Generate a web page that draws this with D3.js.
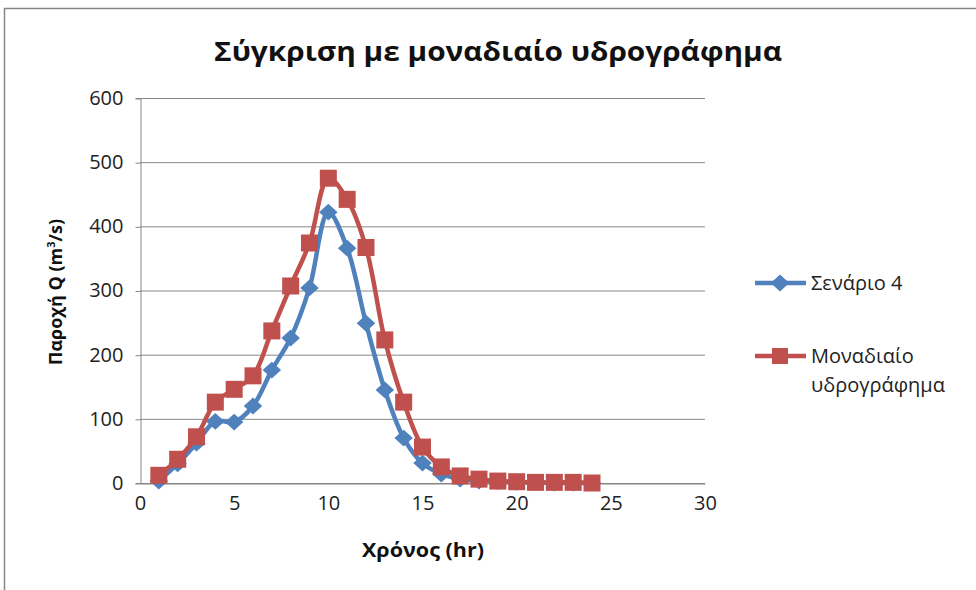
<!DOCTYPE html>
<html><head><meta charset="utf-8">
<script src="https://cdn.jsdelivr.net/npm/d3@7"></script>
<style>body{margin:0;background:#fff;} text{font-family:"Open Sans","Liberation Sans",sans-serif;}</style>
</head><body>
<svg id="c" width="976" height="590"></svg>
<script>
const hours = [1,2,3,4,5,6,7,8,9,10,11,12,13,14,15,16,17,18,19,20,21,22,23,24];
const scenario4 = [3,30,62,96,95,120,176,226,304,422,366,249,145,70,31,14,6,3,2,1,1,0,0,0];
const unitHydro = [12,37,72,126,146,167,237,307,374,475,442,367,223,126,56,25,11,6,3,2,1,1,1,0];
const xTicks = [0,5,10,15,20,25,30];
const yTicks = [0,100,200,300,400,500,600];
const seriesNames = ["Σενάριο 4","Μοναδιαίο υδρογράφημα"];
const title = "Σύγκριση με μοναδιαίο υδρογράφημα";
const xTitle = "Χρόνος (hr)";

const svg = d3.select("#c");
svg.append("rect").attr("x",4.5).attr("y",8.5).attr("width",990).attr("height",600)
  .attr("fill","#fff").attr("stroke","#868686").attr("stroke-width",1.5);

const L=140,R=705,T=98,B=483;
const x = d3.scaleLinear().domain([0,30]).range([L,R]);
const y = d3.scaleLinear().domain([0,600]).range([B,T]);

svg.append("g").selectAll("line").data(yTicks).join("line")
  .attr("x1",L).attr("x2",R).attr("y1",d=>y(d)+0.5).attr("y2",d=>y(d)+0.5)
  .attr("stroke","#868686").attr("stroke-width",1);

const ya = svg.append("g").attr("transform",`translate(${L+0.5},0)`)
  .call(d3.axisLeft(y).tickValues(yTicks).tickSize(5).tickPadding(12));
ya.select(".domain").attr("stroke","#868686");
ya.selectAll(".tick line").attr("stroke","#868686").attr("transform","translate(0,0.5)");
ya.selectAll("text").attr("font-size",20).attr("fill","#222").attr("font-family","Open Sans, sans-serif");

const xa = svg.append("g").attr("transform",`translate(0,${B+0.5})`)
  .call(d3.axisBottom(x).tickValues(xTicks).tickSize(0).tickPadding(12));
xa.select(".domain").attr("stroke","#868686");
xa.selectAll("text").attr("font-size",20).attr("fill","#222").attr("font-family","Open Sans, sans-serif");

const line = d3.line().x((d,i)=>x(hours[i])).y(d=>y(d)).curve(d3.curveCatmullRom.alpha(0.5));

svg.append("path").datum(scenario4).attr("d",line).attr("fill","none")
  .attr("stroke","#4F81BD").attr("stroke-width",4.5).attr("stroke-linejoin","round");
svg.append("g").selectAll("path").data(scenario4).join("path")
  .attr("d",d3.symbol(d3.symbolDiamond2, 180)())
  .attr("transform",(d,i)=>`translate(${x(hours[i])},${y(d)}) scale(1.1,1)`)
  .attr("fill","#4F81BD");

svg.append("path").datum(unitHydro).attr("d",line).attr("fill","none")
  .attr("stroke","#C0504D").attr("stroke-width",4.5).attr("stroke-linejoin","round");
svg.append("g").selectAll("rect").data(unitHydro).join("rect")
  .attr("x",(d,i)=>x(hours[i])-8.5).attr("y",d=>y(d)-8.5).attr("width",17).attr("height",17)
  .attr("fill","#C0504D");

svg.append("text").attr("x",498).attr("y",61).attr("text-anchor","middle")
  .attr("font-size",27).attr("font-weight","bold").attr("fill","#111")
  .attr("textLength",568).attr("lengthAdjust","spacingAndGlyphs").text(title);

svg.append("text").attr("x",423).attr("y",557).attr("text-anchor","middle")
  .attr("font-size",19).attr("font-weight","bold").attr("fill","#111")
  .attr("textLength",122).attr("lengthAdjust","spacingAndGlyphs").text(xTitle);

const yt = svg.append("text").attr("transform","translate(62,292) rotate(-90)").attr("text-anchor","middle")
  .attr("font-size",18).attr("font-weight","bold").attr("fill","#111");
yt.append("tspan").text("Παροχή Q (m");
yt.append("tspan").attr("font-size",11).attr("dy",-7).text("3");
yt.append("tspan").attr("dy",7).text("/s)");

// legend
const lg = svg.append("g");
lg.append("line").attr("x1",755).attr("x2",806).attr("y1",283).attr("y2",283).attr("stroke","#4F81BD").attr("stroke-width",4.5);
lg.append("path").attr("d",d3.symbol(d3.symbolDiamond2,180)()).attr("transform","translate(780,283) scale(1.1,1)").attr("fill","#4F81BD");
lg.append("text").attr("x",811).attr("y",290).attr("font-size",20).attr("fill","#222").text(seriesNames[0]);
lg.append("line").attr("x1",755).attr("x2",806).attr("y1",356).attr("y2",356).attr("stroke","#C0504D").attr("stroke-width",4.5);
lg.append("rect").attr("x",772).attr("y",348).attr("width",16).attr("height",16).attr("fill","#C0504D");
const lt = lg.append("text").attr("x",811).attr("y",363).attr("font-size",20).attr("fill","#222");
lt.append("tspan").attr("x",811).text("Μοναδιαίο");
lt.append("tspan").attr("x",811).attr("dy",29).text("υδρογράφημα");
</script>
</body></html>
